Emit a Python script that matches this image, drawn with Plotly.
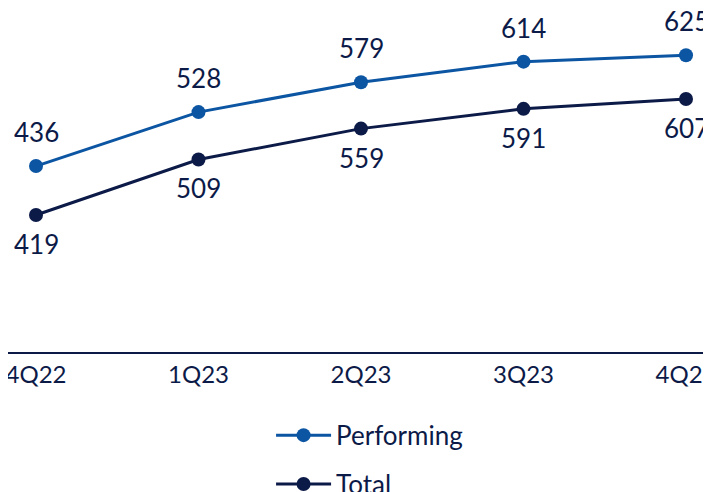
import plotly.graph_objects as go

quarters = ["4Q22", "1Q23", "2Q23", "3Q23", "4Q23"]
performing = [436, 528, 579, 614, 625]
total = [419, 509, 559, 591, 607]

blue = "#0b55a3"
navy = "#0c1a48"
font = "Lato"

fig = go.Figure()

fig.add_trace(go.Scatter(x=quarters, y=performing, mode="lines+markers", name="Performing",
                         line=dict(color=blue, width=3), marker=dict(size=14, color=blue),
                         legendgroup="a"))
fig.add_trace(go.Scatter(x=quarters, y=total, mode="lines+markers", name="Total",
                         line=dict(color=navy, width=3), marker=dict(size=14, color=navy),
                         yaxis="y2", legendgroup="b"))

# value labels
for q, v in zip(quarters, performing):
    fig.add_annotation(x=q, y=v, text=str(v), showarrow=False, yshift=34,
                       font=dict(size=26, color=navy, family=font))
for q, v in zip(quarters, total):
    fig.add_annotation(x=q, y=v, text=str(v), yref="y2", showarrow=False, yshift=-29,
                       font=dict(size=26, color=navy, family=font))

# page body has an 8px margin, positions are shifted to allow for it
fig.update_layout(
    width=711, height=492,
    margin=dict(l=0, r=0, t=12, b=148, autoexpand=False),
    paper_bgcolor="white", plot_bgcolor="white",
    font=dict(family=font, color=navy, size=22),
    xaxis=dict(type="category", range=[-0.1723, 4.203], showgrid=False, zeroline=False,
               showline=True, linecolor=navy, linewidth=2, ticks="", automargin=False,
               tickangle=0, tickfont=dict(size=24, color=navy)),
    yaxis=dict(range=[119, 685], visible=False, automargin=False),
    yaxis2=dict(range=[197, 735], visible=False, overlaying="y", automargin=False),
    legend=dict(orientation="v", x=0.37, y=-0.18, xanchor="left", yanchor="top",
                itemwidth=55, tracegroupgap=12, font=dict(size=26, color=navy)),
    showlegend=True,
)

fig.write_html("out.html")
